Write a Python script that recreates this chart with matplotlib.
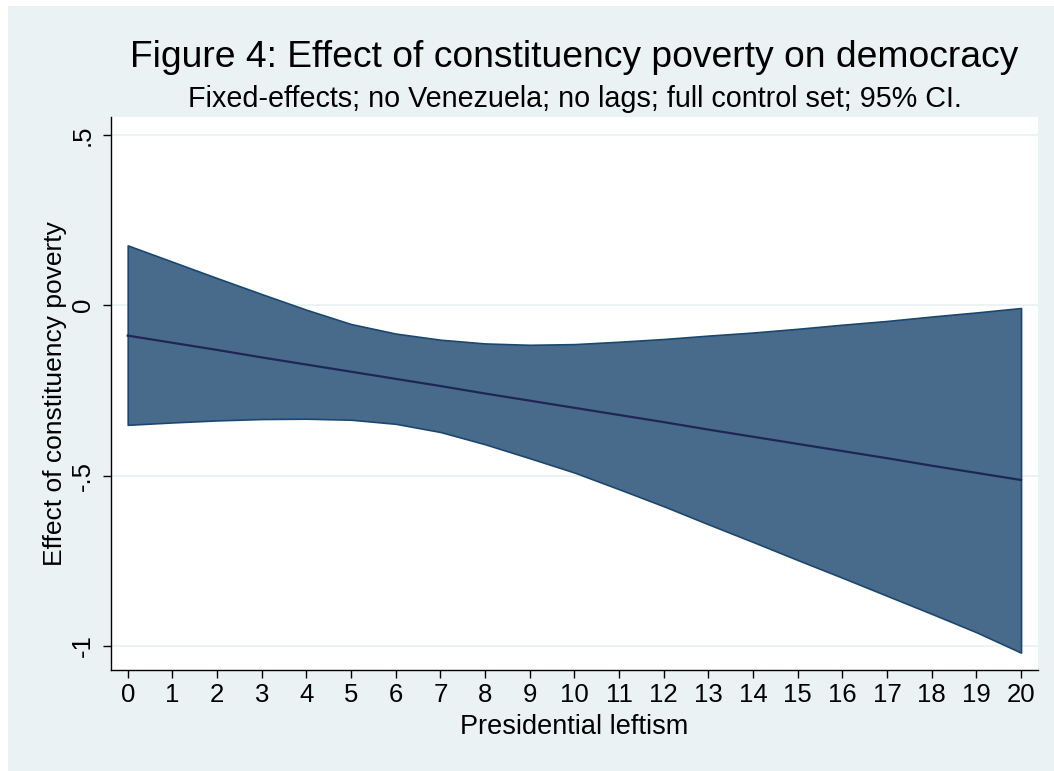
import matplotlib
matplotlib.use('Agg')
from matplotlib import pyplot as plt
from matplotlib.patches import Rectangle

plt.rcParams['font.family'] = ['Liberation Sans', 'DejaVu Sans']

# presidential leftism (x) and marginal effect with 95% CI
leftism = [0, 1, 2, 3, 4, 5, 6, 7, 8, 9, 10, 11, 12, 13, 14, 15, 16, 17, 18, 19, 20]
effect = [-0.089, -0.110, -0.131, -0.153, -0.174, -0.195, -0.216, -0.237, -0.259, -0.280, -0.301,
          -0.322, -0.343, -0.365, -0.386, -0.407, -0.428, -0.449, -0.471, -0.492, -0.513]
ci_upper = [0.176, 0.128, 0.080, 0.033, -0.013, -0.055, -0.083, -0.101, -0.112, -0.116, -0.114,
            -0.107, -0.099, -0.089, -0.080, -0.069, -0.057, -0.046, -0.033, -0.021, -0.008]
ci_lower = [-0.351, -0.344, -0.338, -0.334, -0.333, -0.336, -0.348, -0.372, -0.408, -0.449, -0.491,
            -0.540, -0.590, -0.643, -0.695, -0.748, -0.800, -0.853, -0.906, -0.960, -1.020]

y_ticks = [-1, -0.5, 0, 0.5]
y_tick_labels = ['-1', '-.5', '0', '.5']

W, H = 1054, 771
bg = '#EAF2F3'

fig = plt.figure(figsize=(W / 100, H / 100), dpi=100, facecolor='white')
# light graph region (white strip left and top like the original export)
fig.patches.append(Rectangle((8 / W, 0), 1, 1 - 6 / H, transform=fig.transFigure,
                             facecolor=bg, edgecolor='none', zorder=-10))

ax = fig.add_axes([111 / W, 1 - 670 / H, 927 / W, 553 / H])
ax.set_facecolor('white')

ax.fill_between(leftism, ci_lower, ci_upper, facecolor='#486B8C', edgecolor='#1A476F',
                linewidth=1.2, zorder=2)
ax.plot(leftism, effect, color='#1F2656', linewidth=1.6, zorder=3)

ax.set_xlim(-0.374, 20.38)
ax.set_ylim(-1.071, 0.553)

ax.set_xticks(leftism)
ax.set_yticks(y_ticks)
ax.set_yticklabels(y_tick_labels, rotation=90, va='center')

ax.grid(axis='y', color=bg, linewidth=1.3, zorder=0)
ax.set_axisbelow(True)

for s in ['top', 'right']:
    ax.spines[s].set_visible(False)
for s in ['left', 'bottom']:
    ax.spines[s].set_linewidth(1.0)
    ax.spines[s].set_color('black')

ax.tick_params(axis='both', direction='out', length=5.5, width=1.0, labelsize=18.5, colors='black')
ax.tick_params(axis='y', pad=6)
ax.tick_params(axis='x', pad=4)

ax.set_xlabel('Presidential leftism', fontsize=19.5, labelpad=5)
ax.set_ylabel('Effect of constituency poverty', fontsize=19, labelpad=3)

cx = (111 + 1038) / 2 / W
fig.text(cx, 1 - 67 / H, 'Figure 4: Effect of constituency poverty on democracy',
         fontsize=26.8, ha='center', va='baseline')
fig.text(cx, 1 - 107 / H, 'Fixed-effects; no Venezuela; no lags; full control set; 95% CI.',
         fontsize=20.7, ha='center', va='baseline')

fig.savefig('out.png', dpi=100, facecolor='white')
